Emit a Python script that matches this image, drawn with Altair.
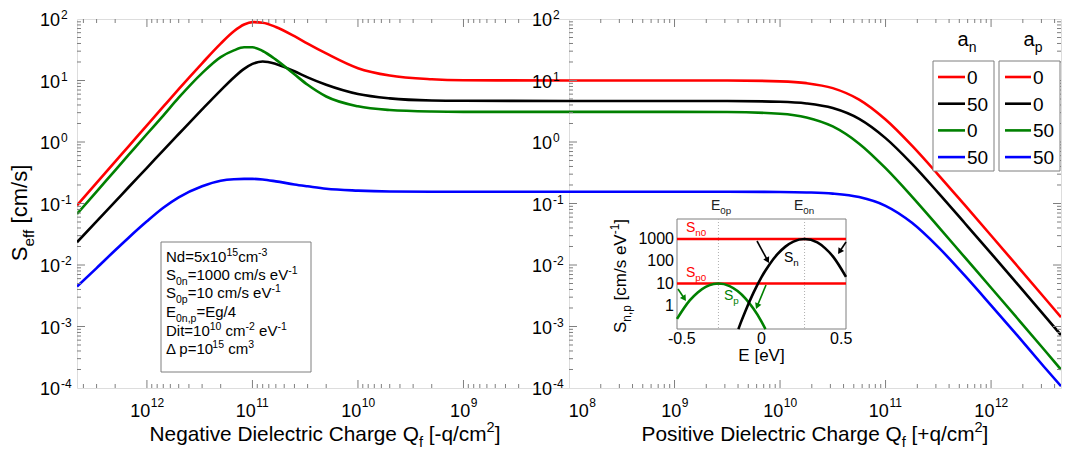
import math
import altair as alt
import pandas as pd

FONT = "Liberation Sans"
GRAY = "#7f7f7f"
W, H = 492, 369

# ---------------- data (S given as log10 values) ----------------
Q_NEG = [4.6e12, 3e12, 2e12, 1.5e12, 1e12, 7e11, 5e11, 3e11, 2e11, 1.5e11, 1.2e11, 1e11,
         8e10, 6e10, 4e10, 3e10, 2e10, 1e10, 5e9, 2e9, 1e9, 1e8]
RED_NEG = [-1.03, -0.665, -0.32, -0.075, 0.27, 0.574, 0.86, 1.28, 1.6, 1.8, 1.91, 1.95,
           1.94, 1.87, 1.72, 1.6, 1.44, 1.2, 1.08, 1.02, 1.005, 1.0]
BLACK_NEG = [-1.63, -1.29, -0.97, -0.74, -0.42, -0.135, 0.13, 0.53, 0.84, 1.05, 1.19, 1.27,
             1.31, 1.27, 1.15, 1.05, 0.93, 0.78, 0.71, 0.675, 0.67, 0.667]
GREEN_NEG = [-1.17, -0.806, -0.46, -0.215, 0.13, 0.43, 0.72, 1.12, 1.38, 1.49, 1.54, 1.54,
             1.48, 1.34, 1.1, 0.93, 0.74, 0.58, 0.52, 0.495, 0.49, 0.49]
BLUE_NEG = [-2.35, -2.05, -1.76, -1.56, -1.29, -1.07, -0.9, -0.72, -0.63, -0.605, -0.6, -0.6,
            -0.61, -0.64, -0.69, -0.72, -0.76, -0.79, -0.805, -0.81, -0.81, -0.81]

Q_POS = [1e8, 1e9, 3.16e9, 1e10, 1.78e10, 3.16e10, 5.62e10, 1e11, 1.78e11, 3.16e11,
         5.62e11, 1e12, 1.78e12, 3.16e12, 4.6e12]
RED_POS = [1.0, 1.0, 1.0, 0.986, 0.957, 0.876, 0.689, 0.365, -0.06, -0.533, -1.024,
           -1.52, -2.02, -2.52, -2.85]
BLACK_POS = [0.667, 0.667, 0.666, 0.654, 0.627, 0.552, 0.376, 0.063, -0.356, -0.827,
             -1.317, -1.81, -2.31, -2.81, -3.14]
GREEN_POS = [0.49, 0.49, 0.488, 0.46, 0.40, 0.253, -0.027, -0.426, -0.888, -1.376,
             -1.873, -2.37, -2.87, -3.37, -3.70]
BLUE_POS = [-0.81, -0.81, -0.81, -0.813, -0.82, -0.839, -0.896, -1.038, -1.314, -1.709,
            -2.17, -2.656, -3.15, -3.65, -3.97]

SERIES_COLORS = ["#ff0000", "#000000", "#008000", "#0000ff"]
AN_VALUES = ["0", "50", "0", "50"]
AP_VALUES = ["0", "0", "50", "50"]

# inset
E_SN = [-0.145, -0.13, -0.1, -0.05, 0.0, 0.05, 0.1, 0.15, 0.2, 0.27, 0.35, 0.4, 0.45, 0.53]
SN_LOG = [-1.05, -0.76, -0.22, 0.59, 1.29, 1.86, 2.32, 2.66, 2.885, 3.0, 2.85, 2.58, 2.2, 1.3]
E_SP = [-0.53, -0.45, -0.4, -0.35, -0.3, -0.27, -0.2, -0.15, -0.1, -0.05, 0.0, 0.025]
SP_LOG = [-0.59, 0.24, 0.6, 0.85, 0.98, 1.0, 0.885, 0.66, 0.32, -0.14, -0.71, -1.05]
S_REF_LEVELS = [1000, 10]
E_0 = [-0.27, 0.27]
E_TICKS = [-0.5, 0, 0.5]
E_TICK_LABELS = ["-0.5", "0", "0.5"]
S_TICKS = [1, 10, 100, 1000]
S_TICK_LABELS = ["1", "10", "100", "1000"]

X_TICK_VALUES = [1e8, 1e9, 1e10, 1e11, 1e12]
X_TICK_EXP = ["8", "9", "10", "11", "12"]
Y_TICK_VALUES = [1e-4, 1e-3, 1e-2, 1e-1, 1e0, 1e1, 1e2]
Y_TICK_EXP = ["-4", "-3", "-2", "-1", "0", "1", "2"]

# ---------------- helpers ----------------
AW = {' ': 278, '(': 333, ')': 333, '+': 584, ',': 278, '-': 333, '.': 278, '/': 278,
      '=': 584, '[': 278, ']': 278, 'A': 667, 'C': 722, 'D': 722, 'E': 667, 'N': 722,
      'P': 667, 'Q': 778, 'S': 667, 'V': 667, 'a': 556, 'b': 556, 'c': 500, 'd': 556,
      'e': 556, 'f': 278, 'g': 556, 'h': 556, 'i': 222, 'l': 222, 'm': 833, 'n': 556,
      'o': 556, 'p': 556, 'q': 556, 'r': 333, 's': 500, 't': 278, 'v': 500, 'x': 500}
ONE = pd.DataFrame({"k": [0]})


def tw(text, size):
    return sum(AW.get(ch, 556) for ch in text) * size / 1000.0


def rich(segs, x, y, size, color="black", angle=0, anchor="left"):
    items = []
    for t, k in segs:
        fs = size if k == "n" else round(size * 0.7, 1)
        sh = 0.0 if k == "n" else (0.3 * size if k == "b" else -0.42 * size)
        items.append((t, fs, sh, tw(t, fs)))
    total = sum(i[3] for i in items)
    off = {"left": 0.0, "center": -total / 2.0, "right": -total}[anchor]
    out = []
    for t, fs, sh, w in items:
        lead = tw(t[: len(t) - len(t.lstrip(" "))], fs)
        o = off + lead
        if angle == 0:
            px, py = x + o, y + sh
        else:
            px, py = x + sh, y - o
        props = dict(text=t.strip(), fontSize=fs, color=color, align="left",
                     baseline="alphabetic", font=FONT)
        if angle:
            props["angle"] = angle
        out.append(alt.Chart(ONE).mark_text(**props).encode(x=alt.value(px), y=alt.value(py)))
        off += w
    return out


def box(x1, y1, x2, y2):
    return alt.Chart(ONE).mark_rect(fill="white", stroke=GRAY, strokeWidth=1).encode(
        x=alt.value(x1), x2=alt.value(x2), y=alt.value(y1), y2=alt.value(y2))


def seg(x1, y1, x2, y2, color, width=2.6):
    return alt.Chart(ONE).mark_rule(color=color, strokeWidth=width).encode(
        x=alt.value(x1), x2=alt.value(x2), y=alt.value(y1), y2=alt.value(y2))


def arrow(x1, y1, x2, y2, color):
    ang = math.degrees(math.atan2(x2 - x1, -(y2 - y1))) % 360
    L = math.hypot(x2 - x1, y2 - y1)
    ux, uy = (x2 - x1) / L, (y2 - y1) / L
    hx, hy = x2 - 3 * ux, y2 - 3 * uy
    line = seg(x1, y1, hx, hy, color, 1.6)
    head = alt.Chart(ONE).mark_point(shape="triangle-up", filled=True, color=color, opacity=1,
                                     size=45, angle=ang).encode(x=alt.value(hx), y=alt.value(hy))
    return [line, head]


def curve_df(Q, series):
    rows = []
    for color, vals in zip(SERIES_COLORS, series):
        for q, v in zip(Q, vals):
            rows.append({"Q": q, "S": 10 ** v, "c": color})
    return pd.DataFrame(rows)


YS = alt.Scale(type="log", domain=[1e-4, 1e2], nice=False)
XS_NEG = alt.Scale(type="log", domain=[1e8, 4.6e12], reverse=True, nice=False)
XS_POS = alt.Scale(type="log", domain=[1e8, 4.6e12], nice=False)

X_MINOR = [m * 10.0 ** k for k in range(8, 13) for m in range(2, 10) if m * 10.0 ** k <= 4.6e12]
X_MAJOR_IN = [1e9, 1e10, 1e11, 1e12]
Y_MINOR = [m * 10.0 ** k for k in range(-4, 2) for m in range(2, 10)]
Y_MAJOR_IN = [1e-3, 1e-2, 1e-1, 1e0, 1e1]

LBL = 18      # tick label "10" size
SUP = 12      # exponent size


def tick_layers(xs, left_edge, right_edge):
    out = []
    for vals, L in ((X_MAJOR_IN, 8), (X_MINOR, 4)):
        base = alt.Chart(pd.DataFrame({"t": vals})).mark_rule(color=GRAY, strokeWidth=1)
        out.append(base.encode(x=alt.X("t:Q", scale=xs, axis=None), y=alt.value(H), y2=alt.value(H - L)))
        out.append(base.encode(x=alt.X("t:Q", scale=xs, axis=None), y=alt.value(0), y2=alt.value(L)))
    for vals, L in ((Y_MAJOR_IN, 8), (Y_MINOR, 4)):
        base = alt.Chart(pd.DataFrame({"t": vals})).mark_rule(color=GRAY, strokeWidth=1)
        if left_edge:
            out.append(base.encode(y=alt.Y("t:Q", scale=YS, axis=None), x=alt.value(0), x2=alt.value(L)))
        if right_edge:
            out.append(base.encode(y=alt.Y("t:Q", scale=YS, axis=None), x=alt.value(W), x2=alt.value(W - L)))
    return out


def x_labels(xs, keep):
    out = []
    for v, e in zip(X_TICK_VALUES, X_TICK_EXP):
        if v not in keep:
            continue
        df = pd.DataFrame({"t": [v], "sup": [e]})
        d = (tw("10", LBL) - tw(e, SUP)) / 2.0
        if v == 1e8:
            d += 13  # label at the panel joint sits right of its tick
        out.append(alt.Chart(df).mark_text(text="10", align="right", baseline="alphabetic", fontSize=LBL,
                                           font=FONT, color="black", dx=d).encode(
            x=alt.X("t:Q", scale=xs, axis=None), y=alt.value(H + 29)))
        out.append(alt.Chart(df).mark_text(align="left", baseline="alphabetic", fontSize=SUP,
                                           font=FONT, color="black", dx=d + 0.5).encode(
            x=alt.X("t:Q", scale=xs, axis=None), y=alt.value(H + 19), text="sup:N"))
    return out


def y_labels():
    df = pd.DataFrame({"t": Y_TICK_VALUES, "sup": Y_TICK_EXP})
    return [
        alt.Chart(df).mark_text(text="10", align="right", baseline="alphabetic", fontSize=LBL, font=FONT,
                                color="black", dy=7).encode(y=alt.Y("t:Q", scale=YS, axis=None), x=alt.value(-17)),
        alt.Chart(df).mark_text(align="left", baseline="alphabetic", fontSize=SUP, font=FONT,
                                color="black", dy=0).encode(y=alt.Y("t:Q", scale=YS, axis=None), x=alt.value(-16),
                                                            text="sup:N"),
    ]


TITLE_FS = 20.8

# ---------------- left panel ----------------
neg_df = curve_df(Q_NEG, [RED_NEG, BLACK_NEG, GREEN_NEG, BLUE_NEG])
neg_lines = alt.Chart(neg_df).mark_line(strokeWidth=2.6, clip=True, interpolate="monotone").encode(
    x=alt.X("Q:Q", scale=XS_NEG, axis=None),
    y=alt.Y("S:Q", scale=YS, axis=None),
    color=alt.Color("c:N", scale=None),
    order=alt.Order("Q:Q", sort="descending"))

TB_LINES = [
    [("Nd=5x10", "n"), ("15", "p"), ("cm", "n"), ("-3", "p")],
    [("S", "n"), ("0n", "b"), ("=1000 cm/s eV", "n"), ("-1", "p")],
    [("S", "n"), ("0p", "b"), ("=10 cm/s eV", "n"), ("-1", "p")],
    [("E", "n"), ("0n,p", "b"), ("=Eg/4", "n")],
    [("Dit=10", "n"), ("10", "p"), (" cm", "n"), ("-2", "p"), (" eV", "n"), ("-1", "p")],
    [("\u0394 p=10", "n"), ("15", "p"), (" cm", "n"), ("3", "p")],
]
TB_BASE = [243, 261, 279, 298, 317, 335]

left_layers = [neg_lines] + tick_layers(XS_NEG, True, False) + [box(84, 223, 234, 353)]
for segs, yb in zip(TB_LINES, TB_BASE):
    left_layers += rich(segs, 89, yb, 15)
left_layers += x_labels(XS_NEG, X_MAJOR_IN) + y_labels()
left_layers += rich([("S", "n"), ("eff", "b"), (" [cm/s]", "n")], -50, 194, 22, angle=270, anchor="center")
left_layers += rich([("Negative Dielectric Charge Q", "n"), ("f", "b"), (" [-q/cm", "n"), ("2", "p"), ("]", "n")],
                    W / 2 + 2, H + 53, TITLE_FS, anchor="center")
left = alt.layer(*left_layers).properties(width=W, height=H)

# ---------------- right panel ----------------
pos_df = curve_df(Q_POS, [RED_POS, BLACK_POS, GREEN_POS, BLUE_POS])
pos_lines = alt.Chart(pos_df).mark_line(strokeWidth=2.6, clip=True, interpolate="monotone").encode(
    x=alt.X("Q:Q", scale=XS_POS, axis=None),
    y=alt.Y("S:Q", scale=YS, axis=None),
    color=alt.Color("c:N", scale=None),
    order=alt.Order("Q:Q"))

main_layers = [pos_lines] + tick_layers(XS_POS, True, True)
main_layers += x_labels(XS_POS, X_TICK_VALUES) + y_labels()
# legend
main_layers += [box(364, 42, 425, 152), box(430, 42, 491, 152)]
main_layers += rich([("a", "n"), ("n", "b")], 398, 27, 20, anchor="center")
main_layers += rich([("a", "n"), ("p", "b")], 464, 27, 20, anchor="center")
for i, (col, an, ap) in enumerate(zip(SERIES_COLORS, AN_VALUES, AP_VALUES)):
    yl = 58 + i * 26.7
    main_layers += [seg(369, yl, 396, yl, col), seg(436, yl, 462, yl, col)]
    main_layers += rich([(an, "n")], 398, yl + 7, 19)
    main_layers += rich([(ap, "n")], 464, yl + 7, 19)
main_layers += rich([("Positive Dielectric Charge Q", "n"), ("f", "b"), (" [+q/cm", "n"), ("2", "p"), ("]", "n")],
                    W / 2, H + 53, TITLE_FS, anchor="center")
right_main = alt.layer(*main_layers)

# inset
IX0, IX1, IY0, IY1 = 108, 277, 200, 310
EX = alt.Scale(domain=[-0.53, 0.53], range=[IX0, IX1], nice=False, zero=False)
SY = alt.Scale(type="log", domain=[0.09, 8000], range=[IY1, IY0], nice=False)
inset_df = pd.DataFrame(
    [{"E": e, "S": 10 ** v, "c": "#008000", "k": "p"} for e, v in zip(E_SP, SP_LOG)] +
    [{"E": e, "S": 10 ** v, "c": "#000000", "k": "n"} for e, v in zip(E_SN, SN_LOG)])
inset_lines = alt.Chart(inset_df).mark_line(strokeWidth=2.6, interpolate="monotone").encode(
    x=alt.X("E:Q", scale=EX, axis=None),
    y=alt.Y("S:Q", scale=SY, axis=None),
    color=alt.Color("c:N", scale=None),
    detail="k:N",
    order=alt.Order("E:Q"))
e0_rules = alt.Chart(pd.DataFrame({"E": E_0})).mark_rule(color="#b0b0b0", strokeDash=[1, 2], strokeWidth=1).encode(
    x=alt.X("E:Q", scale=EX, axis=None), y=alt.value(IY0), y2=alt.value(IY1))
ref_rules = alt.Chart(pd.DataFrame({"S": S_REF_LEVELS})).mark_rule(color="#ff0000", strokeWidth=2.6).encode(
    y=alt.Y("S:Q", scale=SY, axis=None), x=alt.value(IX0), x2=alt.value(IX1))
e_lbl = alt.Chart(pd.DataFrame({"E": E_TICKS, "l": E_TICK_LABELS})).mark_text(
    align="center", baseline="alphabetic", fontSize=16, font=FONT, color="black").encode(
    x=alt.X("E:Q", scale=EX, axis=None), y=alt.value(IY1 + 15), text="l:N")
s_lbl = alt.Chart(pd.DataFrame({"S": S_TICKS, "l": S_TICK_LABELS})).mark_text(
    align="right", baseline="middle", fontSize=16, font=FONT, color="black").encode(
    y=alt.Y("S:Q", scale=SY, axis=None), x=alt.value(IX0 - 3), text="l:N")

inset_layers = [box(IX0, IY0, IX1, IY1), e0_rules, ref_rules, inset_lines, e_lbl, s_lbl]
inset_layers += rich([("S", "n"), ("n0", "b")], 117, 213, 14, color="#ff0000")
inset_layers += rich([("S", "n"), ("p0", "b")], 117, 258, 14, color="#ff0000")
inset_layers += rich([("S", "n"), ("n", "b")], 215, 243, 14, color="#000000")
inset_layers += rich([("S", "n"), ("p", "b")], 155, 281, 14, color="#008000")
inset_layers += rich([("E", "n"), ("0p", "b")], 142, 191, 14, color="#222222")
inset_layers += rich([("E", "n"), ("0n", "b")], 225, 191, 14, color="#222222")
inset_layers += rich([("E [eV]", "n")], (IX0 + IX1) / 2, 342, 17, anchor="center")
inset_layers += rich([("S", "n"), ("n,p", "b"), (" [cm/s eV", "n"), ("-1", "p"), ("]", "n")],
                     57, 257, 17, angle=270, anchor="center")
inset_layers += arrow(188, 222, 200, 244, "#000000")
inset_layers += arrow(277, 223, 269, 235, "#000000")
inset_layers += arrow(109, 270, 117, 282, "#008000")
inset_layers += arrow(197, 266, 187, 290, "#008000")
inset = alt.layer(*inset_layers)

right = alt.layer(right_main, inset).resolve_scale(x="independent", y="independent").properties(width=W, height=H)

chart = alt.hconcat(left, right, spacing=0, bounds="flush").properties(padding=0).configure_view(
    stroke=GRAY, strokeWidth=1).configure(font=FONT)

chart.save("out.html", embed_options={"renderer": "svg", "actions": False})
